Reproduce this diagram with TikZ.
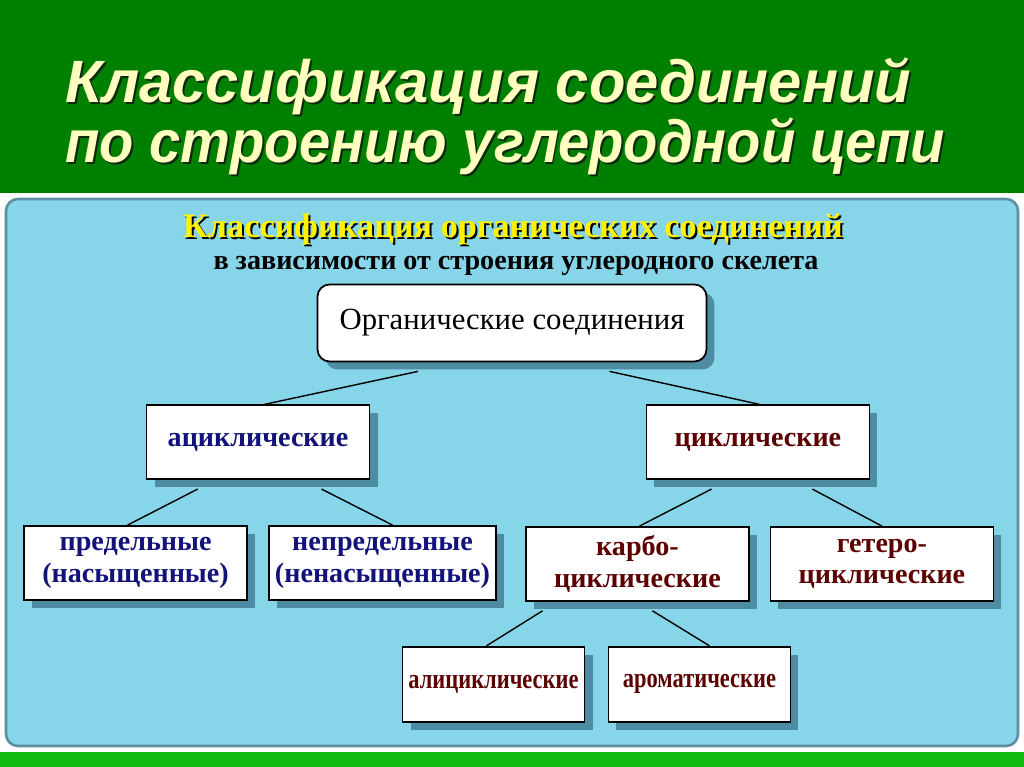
\documentclass[tikz,border=0pt]{standalone}
\usepackage{fontspec}
\setmainfont{Liberation Serif}
\newfontfamily\headfont{Liberation Sans}
\usepackage{tikz}
\usetikzlibrary{positioning,shadows,backgrounds}
\definecolor{headgreen}{HTML}{008000}
\definecolor{bargreen}{HTML}{10BA10}
\definecolor{panelblue}{HTML}{87D5E8}
\definecolor{paneledge}{HTML}{5E8FA3}
\definecolor{boxshade}{HTML}{4E8CA4}
\definecolor{headyellow}{HTML}{FFFFC0}
\definecolor{headshade}{HTML}{0F2A0F}
\definecolor{acycblue}{HTML}{12127A}
\definecolor{cycred}{HTML}{5C0000}
% text with a dark copy behind it
\newcommand{\shadetext}[3]{\makebox[0pt][l]{\hspace{#3}\raisebox{-#3}{\color{#1}#2}}#2}

\begin{document}
\begin{tikzpicture}[
  x=0.02cm, y=-0.02cm,
  headtext/.style={anchor=base west, inner sep=0pt, text=headyellow,
                   font=\headfont\bfseries\itshape\fontsize{34}{40}\selectfont},
  subtext/.style={anchor=base, inner sep=0pt, font=\bfseries},
  box/.style={rectangle, draw=black, line width=1pt, fill=white,
              minimum width=4.46cm, minimum height=1.48cm, align=center,
              font=\bfseries\fontsize{16}{18}\selectfont,
              drop shadow={shadow xshift=0.16cm, shadow yshift=-0.16cm,
                           fill=boxshade, opacity=1}},
  smallbox/.style={box, minimum width=3.64cm, minimum height=1.5cm},
  link/.style={line width=0.8pt}
]
\useasboundingbox (0,0) rectangle (1024,767);

% Background: header, panel, bottom bar
\begin{pgfonlayer}{background}
  \fill[white] (0,0) rectangle (1024,767);
  \fill[headgreen] (0,0) rectangle (1024,193);
  \fill[bargreen] (0,752) rectangle (1024,767);
  \draw[paneledge, line width=1.5pt, fill=panelblue, rounded corners=0.24cm]
    (6,199) rectangle (1018,746);
\end{pgfonlayer}

% Slide title
\node[headtext] (title1) at (65,103) {\shadetext{headshade}{Классификация соединений}{0.04cm}};
\node[headtext] (title2) at (65,162)
  {\scalebox{0.94}[1]{\shadetext{headshade}{по строению углеродной цепи}{0.04cm}}};

% Diagram heading
\node[subtext, text=yellow, font=\bfseries\fontsize{19.5}{24}\selectfont] (sub1) at (513,237)
  {\shadetext{black}{Классификация органических соединений}{0.04cm}};
\node[subtext, font=\bfseries\fontsize{16}{19}\selectfont] (sub2) at (516,269)
  {в зависимости от строения углеродного скелета};

% Root
\node[box, rounded corners=0.24cm, minimum width=7.78cm, minimum height=1.54cm,
      font=\fontsize{17.5}{21}\selectfont] (root) at (512,323) {Органические соединения};

% Level 1
\node[box, below=0.84cm of root, xshift=-5.08cm, text=acycblue] (acyc) {ациклические};
\node[box, below=0.84cm of root, xshift=4.92cm, text=cycred] (cyc) {циклические};

% Level 2
\node[box, below=0.9cm of acyc, xshift=-2.45cm, text=acycblue] (pred) {предельные\\(насыщенные)};
\node[box, below=0.9cm of acyc, xshift=2.49cm, text=acycblue] (nepred) {непредельные\\(ненасыщенные)};
\node[box, below=0.92cm of cyc, xshift=-2.41cm, text=cycred] (karbo) {карбо-\\циклические};
\node[box, below=0.92cm of cyc, xshift=2.48cm, text=cycred] (hetero) {гетеро-\\циклические};

% Level 3
\node[smallbox, below=0.88cm of karbo, xshift=-2.88cm, text=cycred] (alicyc)
  {\scalebox{0.8}[1]{алициклические}};
\node[smallbox, below=0.88cm of karbo, xshift=1.24cm, text=cycred] (arom)
  {\scalebox{0.8}[1]{ароматические}};

% Connectors
\begin{pgfonlayer}{background}
  \draw[link] ([xshift=-1.88cm,yshift=-0.18cm]root.south) -- ([xshift=0.13cm]acyc.north);
  \draw[link] ([xshift=1.95cm,yshift=-0.18cm]root.south) -- ([xshift=0.03cm]cyc.north);
  \draw[link] ([xshift=-1.21cm,yshift=-0.18cm]acyc.south) -- ([xshift=-0.16cm]pred.north);
  \draw[link] ([xshift=1.27cm,yshift=-0.18cm]acyc.south) -- ([xshift=0.2cm]nepred.north);
  \draw[link] ([xshift=-0.93cm,yshift=-0.18cm]cyc.south) -- ([xshift=0.04cm]karbo.north);
  \draw[link] ([xshift=1.09cm,yshift=-0.18cm]cyc.south) -- (hetero.north);
  \draw[link] ([xshift=-1.9cm,yshift=-0.18cm]karbo.south) -- ([xshift=-0.14cm]alicyc.north);
  \draw[link] ([xshift=0.3cm,yshift=-0.18cm]karbo.south) -- ([xshift=0.2cm]arom.north);
\end{pgfonlayer}

\end{tikzpicture}
\end{document}
